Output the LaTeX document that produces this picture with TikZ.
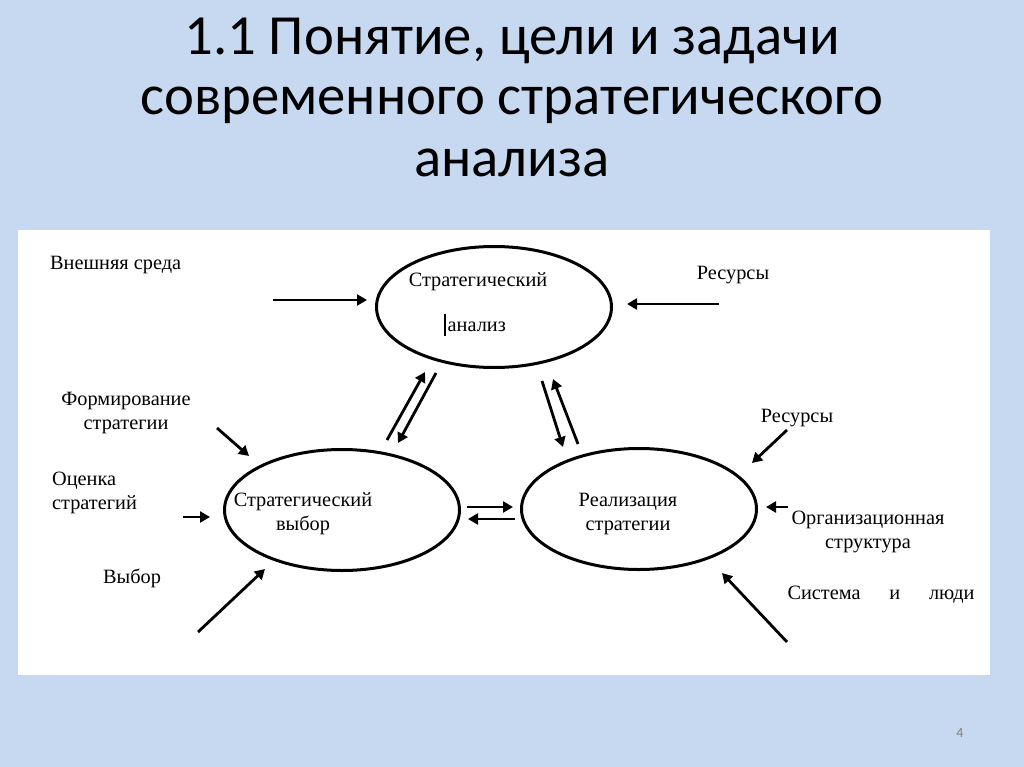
\documentclass[tikz,border=0pt]{standalone}
\usepackage{fontspec}
\setmainfont{Liberation Serif}
\newfontfamily\titlefont{Carlito}
\usetikzlibrary{arrows.meta,shapes.geometric}
\definecolor{slidebg}{RGB}{198,217,240}

\begin{document}
\begin{tikzpicture}[x=1pt,y=-1pt,
  every node/.style={font=\fontsize{20.3}{24}\selectfont,inner sep=0pt},
  ttl/.style={font=\titlefont\fontsize{56.7}{62}\selectfont,anchor=base},
  oval/.style={draw,ellipse,line width=3pt,minimum width=235pt,minimum height=121pt},
  arr/.style={-{Triangle[length=10pt,width=11pt]},line width=2.8pt}]
\useasboundingbox (0,0) rectangle (1024,767);
\fill[slidebg] (0,0) rectangle (1024,767);
\fill[white] (18,230) rectangle (990,675);
% title
\node[ttl] (t1) at (512,55) {1.1 Понятие, цели и задачи};
\node[ttl] (t2) at (512,115) {современного стратегического};
\node[ttl] (t3) at (512,177) {анализа};
\node[gray,font=\titlefont\fontsize{14}{16}\selectfont] (pg) at (960,733) {4};
% the three blocks
\node[oval] (ana) at (494,307) {};
\node[oval] (vyb) at (342,510) {};
\node[oval] (real) at (639,509) {};
\node (ana1) at (478,282) {Стратегический};
\node (ana2) at (475,325) {\rule[-5pt]{1.5pt}{22pt}\kern2pt анализ};
\node[align=center] (vyb1) at (303,514) {Стратегический\\выбор};
\node[align=center] (real1) at (628,514) {Реализация\\стратегии};
% labels
\node[anchor=west] (ext) at (50,265) {Внешняя среда};
\node[align=center] (form) at (126,413) {Формирование\\стратегии};
\node[anchor=west,align=left] (ocen) at (52,493) {Оценка\\стратегий};
\node (vybor) at (132,578) {Выбор};
\node (res1) at (733,275) {Ресурсы};
\node (res2) at (797,418) {Ресурсы};
\node[align=center] (org) at (868,532) {Организационная\\структура};
\node (sys) at (881,595) {\makebox[187pt][s]{Система и люди}};
% arrow ends
\coordinate (ext-a) at (273,300);  \coordinate (ext-b) at (367,300);
\coordinate (res1-a) at (719,304); \coordinate (res1-b) at (627,304);
\coordinate (av-a) at (387,440);   \coordinate (av-b) at (425,372);
\coordinate (va-a) at (436,373);   \coordinate (va-b) at (398,443);
\coordinate (ar-a) at (542,381);   \coordinate (ar-b) at (563,447);
\coordinate (ra-a) at (578,444);   \coordinate (ra-b) at (553,379);
\coordinate (vr-a) at (467,507);   \coordinate (vr-b) at (513,507);
\coordinate (rv-a) at (515,519);   \coordinate (rv-b) at (468,519);
\coordinate (form-a) at (217,428); \coordinate (form-b) at (249,456);
\coordinate (ocen-a) at (183,517); \coordinate (ocen-b) at (210,517);
\coordinate (vybor-a) at (198,632); \coordinate (vybor-b) at (265,569);
\coordinate (res2-a) at (787,430); \coordinate (res2-b) at (752,463);
\coordinate (org-a) at (788,507);  \coordinate (org-b) at (766,507);
\coordinate (sys-a) at (787,642);  \coordinate (sys-b) at (722,573);
% arrows
\draw[arr] (ext-a) -- (ext-b);
\draw[arr] (res1-a) -- (res1-b);
\draw[arr] (av-a) -- (av-b);
\draw[arr] (va-a) -- (va-b);
\draw[arr] (ar-a) -- (ar-b);
\draw[arr] (ra-a) -- (ra-b);
\draw[arr] (vr-a) -- (vr-b);
\draw[arr] (rv-a) -- (rv-b);
\draw[arr] (form-a) -- (form-b);
\draw[arr] (ocen-a) -- (ocen-b);
\draw[arr] (vybor-a) -- (vybor-b);
\draw[arr] (res2-a) -- (res2-b);
\draw[arr] (org-a) -- (org-b);
\draw[arr] (sys-a) -- (sys-b);
\end{tikzpicture}
\end{document}
